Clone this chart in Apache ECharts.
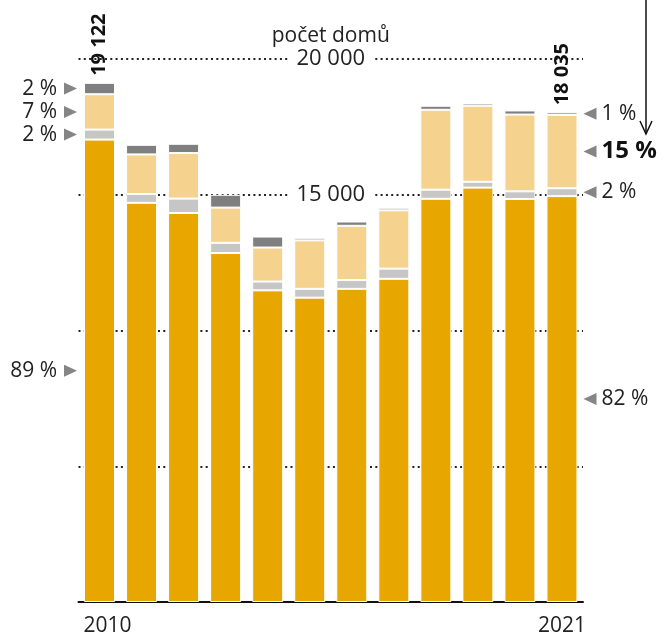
<!DOCTYPE html>
<html>
<head>
<meta charset="utf-8">
<script src="https://cdn.jsdelivr.net/npm/echarts@6/dist/echarts.min.js"></script>
<style>
  html, body { margin: 0; padding: 0; background: #fff; }
  #chart { width: 666px; height: 637px; }
</style>
</head>
<body>
<div id="chart"></div>
<script>
// roky
const years = ['2010', '2011', '2012', '2013', '2014', '2015', '2016', '2017', '2018', '2019', '2020', '2021'];
// segmenty odspodu nahoru
const seg1 = [17032, 14702, 14327, 12853, 11479, 11210, 11534, 11903, 14851, 15263, 14843, 14950];
const seg2 = [368, 324, 531, 376, 324, 324, 324, 376, 335, 214, 284, 290];
const seg3 = [1302, 1459, 1677, 1297, 1253, 1787, 1998, 2148, 2944, 2801, 2826, 2700];
const seg4 = [420, 354, 342, 472, 405, 92, 158, 92, 148, 84, 152, 95];
// popisky procent (stejné pořadí jako segmenty)
const pctFirst = ['89 %', '2 %', '7 %', '2 %'];
const pctLast = ['82 %', '2 %', '15 %', '1 %'];
const gridLabels = ['20 000', '15 000'];

const colors = ['#e8a700', '#c6c6c6', '#f6d28f', '#7f7f7f'];
const segs = [seg1, seg2, seg3, seg4];
const totals = years.map((_, i) => segs.reduce((s, a) => s + a[i], 0));
const fmt = (n) => String(n).replace(/\B(?=(\d{3})+(?!\d))/g, ' ');

const FONT = '"Open Sans", sans-serif';
const chart = echarts.init(document.getElementById('chart'));

const series = segs.map((d, s) => ({
  type: 'bar',
  stack: 'a',
  data: d,
  barWidth: 31,
  itemStyle: { color: colors[s], borderColor: '#fff', borderWidth: 1 },
  label: s === 3 ? {
    show: true,
    position: 'top',
    rotate: 90,
    align: 'left',
    verticalAlign: 'middle',
    distance: 7,
    fontFamily: FONT,
    fontWeight: 'bold',
    fontSize: 20,
    color: '#111',
    formatter: (p) => (p.dataIndex === 0 || p.dataIndex === years.length - 1) ? fmt(totals[p.dataIndex]) : '',
  } : { show: false },
  silent: true,
}));

chart.setOption({
  animation: false,
  grid: { left: 78.5, right: 83, top: 59, bottom: 35 },
  xAxis: {
    type: 'category',
    data: years,
    axisLine: { lineStyle: { color: '#111', width: 2 } },
    axisTick: { show: false },
    axisLabel: {
      interval: 0,
      margin: 14,
      fontFamily: FONT,
      fontSize: 21,
      color: '#222',
      formatter: (v, i) => (i === 0 ? '{a|' + v + '}' : i === years.length - 1 ? v : ''),
      rich: { a: { fontFamily: FONT, fontSize: 21, color: '#222', padding: [0, 0, 0, 16] } },
    },
  },
  yAxis: {
    type: 'value',
    min: 0,
    max: 20000,
    interval: 5000,
    axisLine: { show: false },
    axisTick: { show: false },
    axisLabel: { show: false },
    splitLine: { lineStyle: { color: '#222', width: 2, type: [2, 3.3] } },
  },
  series,
});

// popisky a šipky
const yPix = (v) => chart.convertToPixel({ yAxisIndex: 0 }, v);
const xPix = (i) => chart.convertToPixel({ xAxisIndex: 0 }, i);
const graphic = [];
const textStyle = (extra) => Object.assign({ fontFamily: FONT, fontSize: 21, fill: '#222' }, extra);

const midY = (i, s) => {
  let low = 0;
  for (let k = 0; k < s; k++) low += segs[k][i];
  return yPix(low + segs[s][i] / 2);
};

const last = years.length - 1;
const firstLeft = xPix(0) - 15.5;
const lastRight = xPix(last) + 15.5;
for (let s = 0; s < 4; s++) {
  const yl = midY(0, s);
  graphic.push({ type: 'polygon', shape: { points: [[firstLeft - 20, yl - 6], [firstLeft - 7, yl], [firstLeft - 20, yl + 6]] }, style: { fill: '#858585' } });
  graphic.push({ type: 'text', x: firstLeft - 27, y: yl, style: textStyle({ text: pctFirst[s], align: 'right', verticalAlign: 'middle' }) });
  const yr = midY(last, s);
  graphic.push({ type: 'polygon', shape: { points: [[lastRight + 19, yr - 6], [lastRight + 6, yr], [lastRight + 19, yr + 6]] }, style: { fill: '#858585' } });
  const bold = s === 2;
  graphic.push({ type: 'text', x: lastRight + 24, y: yr, style: textStyle({ text: pctLast[s], align: 'left', verticalAlign: 'middle', fontWeight: bold ? 'bold' : 'normal', fontSize: bold ? 24 : 21, fill: bold ? '#111' : '#222' }) });
}

const cx = (xPix(0) + xPix(last)) / 2;
[20000, 15000].forEach((v, k) => {
  graphic.push({
    type: 'text', x: cx, y: yPix(v), z: 10,
    style: textStyle({ text: gridLabels[k], align: 'center', verticalAlign: 'middle', backgroundColor: '#fff', padding: [0, 8], fontSize: 22 }),
  });
});
graphic.push({ type: 'text', x: cx, y: yPix(20000) - 23, style: textStyle({ text: 'počet domů', align: 'center', verticalAlign: 'middle' }) });

// šipka vpravo nahoře
graphic.push({ type: 'polyline', shape: { points: [[646, 0], [646, 134]] }, style: { stroke: '#111', lineWidth: 1.5 } });
graphic.push({ type: 'polyline', shape: { points: [[640, 121], [646, 134], [652, 121]] }, style: { stroke: '#111', lineWidth: 1.5, fill: null } });

chart.setOption({ graphic });
</script>
</body>
</html>
